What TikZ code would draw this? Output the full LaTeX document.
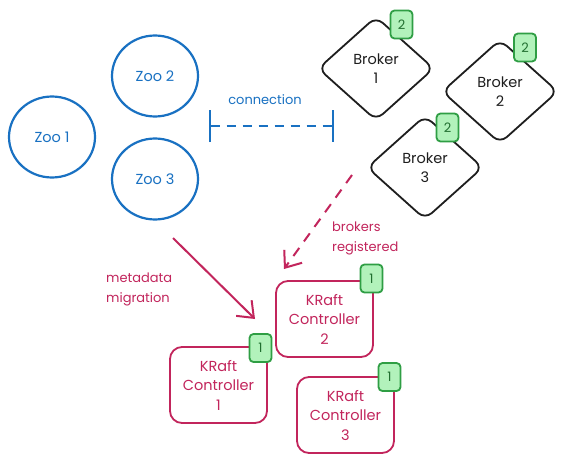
\documentclass[tikz,border=0pt]{standalone}
\usepackage{fontspec}
\setmainfont{Poppins}
\usetikzlibrary{shapes.geometric,arrows.meta}
\definecolor{zblue}{HTML}{1971C2}
\definecolor{kred}{HTML}{C2255C}
\definecolor{bgreen}{HTML}{2F9E44}
\definecolor{bfill}{HTML}{B2F2BB}
\definecolor{ink}{HTML}{1E1E1E}
\begin{document}
\begin{tikzpicture}[x=1pt,y=-1pt,
 zoo/.style={ellipse, draw=zblue, line width=2.2pt, text=zblue, minimum width=86pt, minimum height=81pt, inner sep=0pt, font=\fontsize{14.5}{17}\selectfont},
 broker/.style={diamond, draw=ink, line width=1.8pt, rounded corners=9pt, minimum width=116pt, minimum height=104pt, inner sep=0pt, align=center, text=ink, font=\fontsize{14.5}{19}\selectfont},
 ctrl/.style={rectangle, draw=kred, line width=1.8pt, rounded corners=12pt, minimum width=97pt, minimum height=76pt, inner sep=0pt, align=center, text=kred, font=\fontsize{14.5}{19.5}\selectfont},
 badge/.style={rectangle, draw=bgreen, fill=bfill, line width=1.8pt, rounded corners=4pt, minimum width=22pt, minimum height=28pt, inner sep=0pt, text=bgreen!70!black, font=\fontsize{13}{15}\selectfont},
 lbl/.style={align=left, inner sep=0pt, font=\fontsize{13}{20}\selectfont},
 barb/.style={-{Straight Barb[length=14pt,width=22pt,line width=2pt]}}
]
\useasboundingbox[fill=white] (0,0) rectangle (572,463);

% Zookeepers
\node[zoo] (zoo1) at (52,137) {Zoo 1};
\node[zoo] (zoo2) at (155,76) {Zoo 2};
\node[zoo] (zoo3) at (155,179) {Zoo 3};

% connection
\coordinate (cl) at (209,126);
\coordinate (cr) at (334,126);
\draw[zblue, line width=2pt, dash pattern=on 9pt off 7pt, {Bar[width=32pt,line width=2pt]}-{Bar[width=32pt,line width=2pt]}] (cl) -- (cr);
\node[lbl, text=zblue] (conn) at (265,100) {connection};

% Brokers
\node[broker] (b1) at (376,68.5) {Broker\\1};
\node[broker] (b2) at (500,91.5) {Broker\\2};
\node[broker] (b3) at (425,167.5) {Broker\\3};
\node[badge] (b1b) at (401.5,24.5) {2};
\node[badge] (b2b) at (525,47.5) {2};
\node[badge] (b3b) at (447.5,127.5) {2};

% Controllers
\node[ctrl] (c1) at (218.5,385) {KRaft\\Controller\\1};
\node[ctrl] (c2) at (324.5,319) {KRaft\\Controller\\2};
\node[ctrl] (c3) at (345.5,415) {KRaft\\Controller\\3};
\node[badge] (c1b) at (260.5,348) {1};
\node[badge] (c2b) at (371.5,278.5) {1};
\node[badge] (c3b) at (389.5,377) {1};

% brokers registered
\coordinate (r1) at (352,175);
\coordinate (r2) at (284,269);
\draw[kred, line width=2pt, dash pattern=on 10pt off 8pt, barb] (r1) -- (r2);
\node[lbl, text=kred, anchor=west] (reg) at (332,238.5) {brokers\\registered};

% metadata migration
\coordinate (m1) at (173,238);
\coordinate (m2) at (255,319);
\draw[kred, line width=2pt, barb] (m1) -- (m2);
\node[lbl, text=kred, anchor=west] (mig) at (106,289) {metadata\\migration};
\end{tikzpicture}
\end{document}
